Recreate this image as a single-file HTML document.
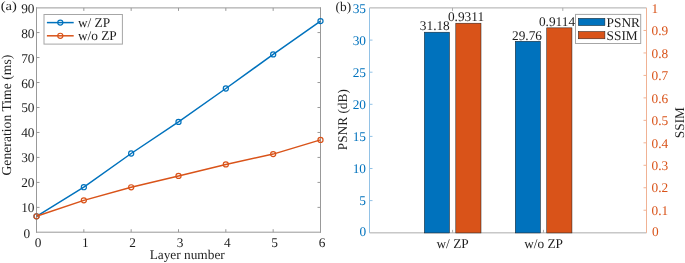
<!DOCTYPE html>
<html><head><meta charset="utf-8"><style>
html,body{margin:0;padding:0;background:#fff;width:685px;height:263px;overflow:hidden}
svg{display:block;will-change:transform;filter:blur(0.35px)}
text{font-family:"Liberation Serif",serif;font-size:13.33px;text-rendering:geometricPrecision}
</style></head><body>
<svg width="685" height="263" viewBox="0 0 685 263">
<rect width="685" height="263" fill="#fff"/>
<g fill="none" stroke="#999999" stroke-width="1">
<path d="M36.5 7.9H320.5M36.5 232.2H320.5M36.5 7.9V232.2M320.5 7.9V232.2" stroke-linecap="square"/>
<path d="M83.83 232.2V229.2M83.83 7.9V10.9M131.17 232.2V229.2M131.17 7.9V10.9M178.5 232.2V229.2M178.5 7.9V10.9M225.83 232.2V229.2M225.83 7.9V10.9M273.17 232.2V229.2M273.17 7.9V10.9M36.5 207.38H39.5M320.5 207.38H317.5M36.5 182.41H39.5M320.5 182.41H317.5M36.5 157.43H39.5M320.5 157.43H317.5M36.5 132.46H39.5M320.5 132.46H317.5M36.5 107.49H39.5M320.5 107.49H317.5M36.5 82.52H39.5M320.5 82.52H317.5M36.5 57.54H39.5M320.5 57.54H317.5M36.5 32.57H39.5M320.5 32.57H317.5"/>
</g>
<g fill="#1e1e1e">
<text x="34.5" y="212.38" text-anchor="end">10</text>
<text x="34.5" y="187.41" text-anchor="end">20</text>
<text x="34.5" y="162.43" text-anchor="end">30</text>
<text x="34.5" y="137.46" text-anchor="end">40</text>
<text x="34.5" y="112.49" text-anchor="end">50</text>
<text x="34.5" y="87.52" text-anchor="end">60</text>
<text x="34.5" y="62.54" text-anchor="end">70</text>
<text x="34.5" y="37.57" text-anchor="end">80</text>
<text x="34.5" y="12.6" text-anchor="end">90</text>
<text x="30.2" y="237.75" text-anchor="end">0</text>
<text x="38" y="246.8" text-anchor="middle">0</text>
<text x="85.33" y="246.8" text-anchor="middle">1</text>
<text x="132.67" y="246.8" text-anchor="middle">2</text>
<text x="180" y="246.8" text-anchor="middle">3</text>
<text x="227.33" y="246.8" text-anchor="middle">4</text>
<text x="274.67" y="246.8" text-anchor="middle">5</text>
<text x="322" y="246.8" text-anchor="middle">6</text>
<text x="187.2" y="258.7" text-anchor="middle">Layer number</text>
<text transform="translate(11.4 115.1) rotate(-90)" text-anchor="middle" style="font-size:13.7px">Generation Time (ms)</text>
<text transform="translate(0.75 9.9) scale(1.09 0.94)">(a)</text>
</g>
<polyline points="36.5,216.3 83.83,187.2 131.17,153.5 178.5,121.9 225.83,88.5 273.17,54.4 320.5,21.1" fill="none" stroke="#0072BD" stroke-width="1.5" stroke-linejoin="round"/><circle cx="36.5" cy="216.3" r="2.55" fill="none" stroke="#0072BD" stroke-width="1.2"/><circle cx="83.83" cy="187.2" r="2.55" fill="none" stroke="#0072BD" stroke-width="1.2"/><circle cx="131.17" cy="153.5" r="2.55" fill="none" stroke="#0072BD" stroke-width="1.2"/><circle cx="178.5" cy="121.9" r="2.55" fill="none" stroke="#0072BD" stroke-width="1.2"/><circle cx="225.83" cy="88.5" r="2.55" fill="none" stroke="#0072BD" stroke-width="1.2"/><circle cx="273.17" cy="54.4" r="2.55" fill="none" stroke="#0072BD" stroke-width="1.2"/><circle cx="320.5" cy="21.1" r="2.55" fill="none" stroke="#0072BD" stroke-width="1.2"/>
<polyline points="36.5,216.3 83.83,200.35 131.17,187.3 178.5,175.9 225.83,164.4 273.17,154.1 320.5,139.9" fill="none" stroke="#D95319" stroke-width="1.5" stroke-linejoin="round"/><circle cx="36.5" cy="216.3" r="2.55" fill="none" stroke="#D95319" stroke-width="1.2"/><circle cx="83.83" cy="200.35" r="2.55" fill="none" stroke="#D95319" stroke-width="1.2"/><circle cx="131.17" cy="187.3" r="2.55" fill="none" stroke="#D95319" stroke-width="1.2"/><circle cx="178.5" cy="175.9" r="2.55" fill="none" stroke="#D95319" stroke-width="1.2"/><circle cx="225.83" cy="164.4" r="2.55" fill="none" stroke="#D95319" stroke-width="1.2"/><circle cx="273.17" cy="154.1" r="2.55" fill="none" stroke="#D95319" stroke-width="1.2"/><circle cx="320.5" cy="139.9" r="2.55" fill="none" stroke="#D95319" stroke-width="1.2"/>
<rect x="44" y="14.5" width="78.4" height="29.6" fill="#fff" stroke="#a6a6a6" stroke-width="1"/>
<line x1="46.9" y1="22.6" x2="73.7" y2="22.6" stroke="#0072BD" stroke-width="1.5"/><circle cx="60.3" cy="22.6" r="2.55" fill="none" stroke="#0072BD" stroke-width="1.2"/>
<line x1="46.9" y1="35.8" x2="73.7" y2="35.8" stroke="#D95319" stroke-width="1.5"/><circle cx="60.3" cy="35.8" r="2.55" fill="none" stroke="#D95319" stroke-width="1.2"/>
<text x="77.9" y="26.8" fill="#1e1e1e">w/ ZP</text>
<text x="77.9" y="39.8" fill="#1e1e1e">w/o ZP</text>
<g fill="none" stroke-width="1">
<path d="M369.5 7.9H646.5M369.5 232.85H646.5" stroke="#ababab"/>
<path d="M452.6 232.85V229.85M543.45 232.85V229.85M452.5 7.9V10.9M562.8 7.9V10.9" stroke="#ababab"/>
<path d="M369.5 7.9V232.85M369.5 200.6H372.5M369.5 168.5H372.5M369.5 136.4H372.5M369.5 104.3H372.5M369.5 72.2H372.5M369.5 40.1H372.5" stroke="#92c2e6"/>
<path d="M646.5 7.9V232.85M646.5 210.23H643.5M646.5 187.76H643.5M646.5 165.29H643.5M646.5 142.82H643.5M646.5 120.35H643.5M646.5 97.88H643.5M646.5 75.41H643.5M646.5 52.94H643.5M646.5 30.47H643.5" stroke="#f0b294"/>
</g>
<rect x="424.3" y="32.2" width="25.2" height="200.75" fill="#0072BD" stroke="#1a1a1a" stroke-width="0.5"/>
<rect x="455.8" y="23.2" width="25.2" height="209.75" fill="#D95319" stroke="#1a1a1a" stroke-width="0.5"/>
<rect x="515.25" y="41.25" width="25.2" height="191.7" fill="#0072BD" stroke="#1a1a1a" stroke-width="0.5"/>
<rect x="546.75" y="27.85" width="25.2" height="205.1" fill="#D95319" stroke="#1a1a1a" stroke-width="0.5"/>
<g fill="#1e1e1e">
<text x="434.8" y="30.45" text-anchor="middle">31.18</text>
<text x="466.0" y="21.4" text-anchor="middle">0.9311</text>
<text x="527.0" y="39.7" text-anchor="middle">29.76</text>
<text x="557.0" y="25.9" text-anchor="middle">0.9114</text>
</g>
<g fill="#0072BD">
<text x="366" y="205.3" text-anchor="end">5</text>
<text x="366" y="173.2" text-anchor="end">10</text>
<text x="366" y="141.1" text-anchor="end">15</text>
<text x="366" y="109" text-anchor="end">20</text>
<text x="366" y="76.9" text-anchor="end">25</text>
<text x="366" y="44.8" text-anchor="end">30</text>
<text x="366" y="12.7" text-anchor="end">35</text>
<text x="366.2" y="236" text-anchor="end">0</text>
</g>
<g fill="#D95319">
<text x="651.6" y="214.93">0.1</text>
<text x="651.6" y="192.46">0.2</text>
<text x="651.6" y="169.99">0.3</text>
<text x="651.6" y="147.52">0.4</text>
<text x="651.6" y="125.05">0.5</text>
<text x="651.6" y="102.58">0.6</text>
<text x="651.6" y="80.11">0.7</text>
<text x="651.6" y="57.64">0.8</text>
<text x="651.6" y="35.17">0.9</text>
<text x="651.6" y="12.7">1</text>
<text x="652.1" y="235.6">0</text>
</g>
<g fill="#1e1e1e">
<text x="452.6" y="248.2" text-anchor="middle">w/ ZP</text>
<text x="543.6" y="248.2" text-anchor="middle">w/o ZP</text>
<text transform="translate(347 119.7) rotate(-90)" text-anchor="middle">PSNR (dB)</text>
<text transform="translate(683.6 122.6) rotate(-90)" text-anchor="middle">SSIM</text>
<text x="335.6" y="10.5">(b)</text>
</g>
<rect x="575.5" y="14.4" width="65.2" height="29.1" fill="#fff" stroke="#a6a6a6" stroke-width="1"/>
<rect x="578.3" y="18.3" width="26.6" height="7.3" fill="#0072BD" stroke="#1a1a1a" stroke-width="0.5"/>
<rect x="578.3" y="31.5" width="26.6" height="7.3" fill="#D95319" stroke="#1a1a1a" stroke-width="0.5"/>
<text x="606.6" y="26.6" fill="#1e1e1e">PSNR</text>
<text x="606.6" y="39.5" fill="#1e1e1e">SSIM</text>
</svg></body></html>
